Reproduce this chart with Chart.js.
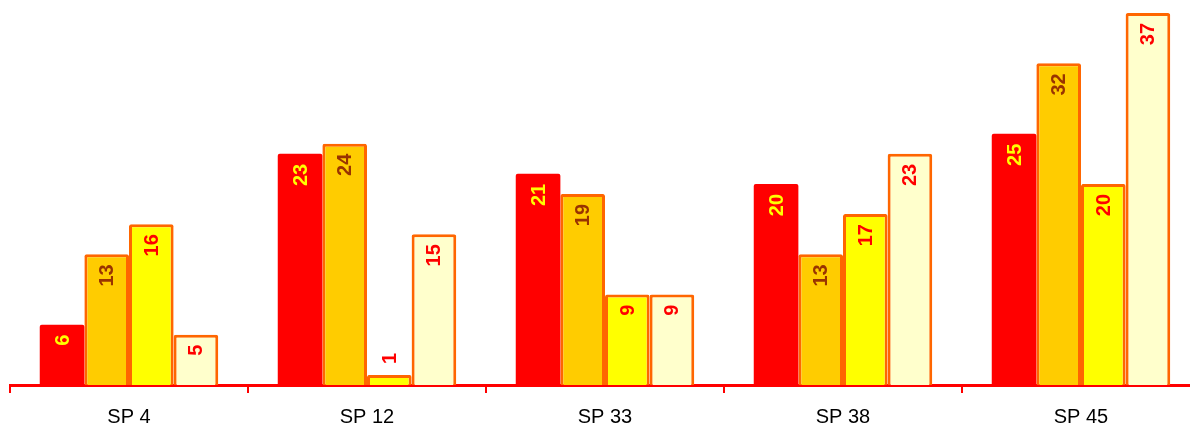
<!DOCTYPE html>
<html>
<head>
<meta charset="utf-8">
<script src="https://cdn.jsdelivr.net/npm/chart.js@4/dist/chart.umd.min.js"></script>
<style>
  html, body { margin: 0; padding: 0; background: #fff; overflow: hidden; }
  /* o gráfico original é cortado à direita: eixo vai além da janela */
  #wrap { width: 1200px; height: 428px; }
</style>
</head>
<body>
<div id="wrap"><canvas id="chart"></canvas></div>
<script>
// Dados
const categories = ['SP 4', 'SP 12', 'SP 33', 'SP 38', 'SP 45'];
const serieA = [6, 23, 21, 20, 25];
const serieB = [13, 24, 19, 13, 32];
const serieC = [16, 1, 9, 17, 20];
const serieD = [5, 15, 9, 23, 37];

const fills = ['#ff0000', '#ffcc00', '#ffff00', '#ffffcc'];
const borders = ['#ff0000', '#ff6600', '#ff6600', '#ff6600'];
const labelColors = ['#ffff00', '#993300', '#ff0000', '#ff0000'];

// Plugin simples para rótulos verticais dentro das barras
const rotatedLabels = {
    id: 'rotatedLabels',
    afterDatasetsDraw(chart) {
        const ctx = chart.ctx;
        ctx.font = 'bold 20px "Liberation Sans", Arial, sans-serif';
        chart.data.datasets.forEach((ds, i) => {
            const meta = chart.getDatasetMeta(i);
            meta.data.forEach((bar, j) => {
                const txt = String(ds.data[j]);
                const w = ctx.measureText(txt).width;
                const inside = (bar.base - bar.y) > w + 16;
                ctx.save();
                ctx.font = 'bold 20px "Liberation Sans", Arial, sans-serif';
                ctx.fillStyle = labelColors[i];
                ctx.textBaseline = 'middle';
                if (inside) {
                    ctx.translate(bar.x, bar.y + 10);
                    ctx.textAlign = 'right';
                } else {
                    ctx.translate(bar.x, bar.y - 11);
                    ctx.textAlign = 'left';
                }
                ctx.rotate(-Math.PI / 2);
                ctx.fillText(txt, 0, 1);
                ctx.restore();
            });
        });
    }
};

const datasets = [serieA, serieB, serieC, serieD].map((values, i) => ({
    data: values,
    backgroundColor: fills[i],
    borderColor: borders[i],
    borderWidth: i === 0 ? 0 : 3,
    borderSkipped: 'bottom',
    borderRadius: 2,
    barPercentage: 1,
    categoryPercentage: 0.75
}));

new Chart(document.getElementById('chart').getContext('2d'), {
    type: 'bar',
    data: { labels: categories, datasets: datasets },
    plugins: [rotatedLabels],
    options: {
        responsive: true,
        maintainAspectRatio: false,
        animation: false,
        layout: { padding: { left: 10, right: 0, top: 13, bottom: 0 } },
        plugins: {
            legend: { display: false },
            tooltip: { enabled: false }
        },
        scales: {
            x: {
                offset: true,
                afterFit(scale) { scale.height = 43; },
                grid: {
                    display: true,
                    offset: true,
                    drawOnChartArea: false,
                    drawTicks: true,
                    tickLength: 8,
                    color: '#ff0000',
                    lineWidth: 2
                },
                border: { display: true, color: '#ff0000', width: 3 },
                ticks: {
                    color: '#000000',
                    padding: 12,
                    font: { family: '"Liberation Sans", Arial, sans-serif', size: 20 }
                }
            },
            y: {
                display: false,
                min: 0,
                max: 37
            }
        }
    }
});
</script>
</body>
</html>
